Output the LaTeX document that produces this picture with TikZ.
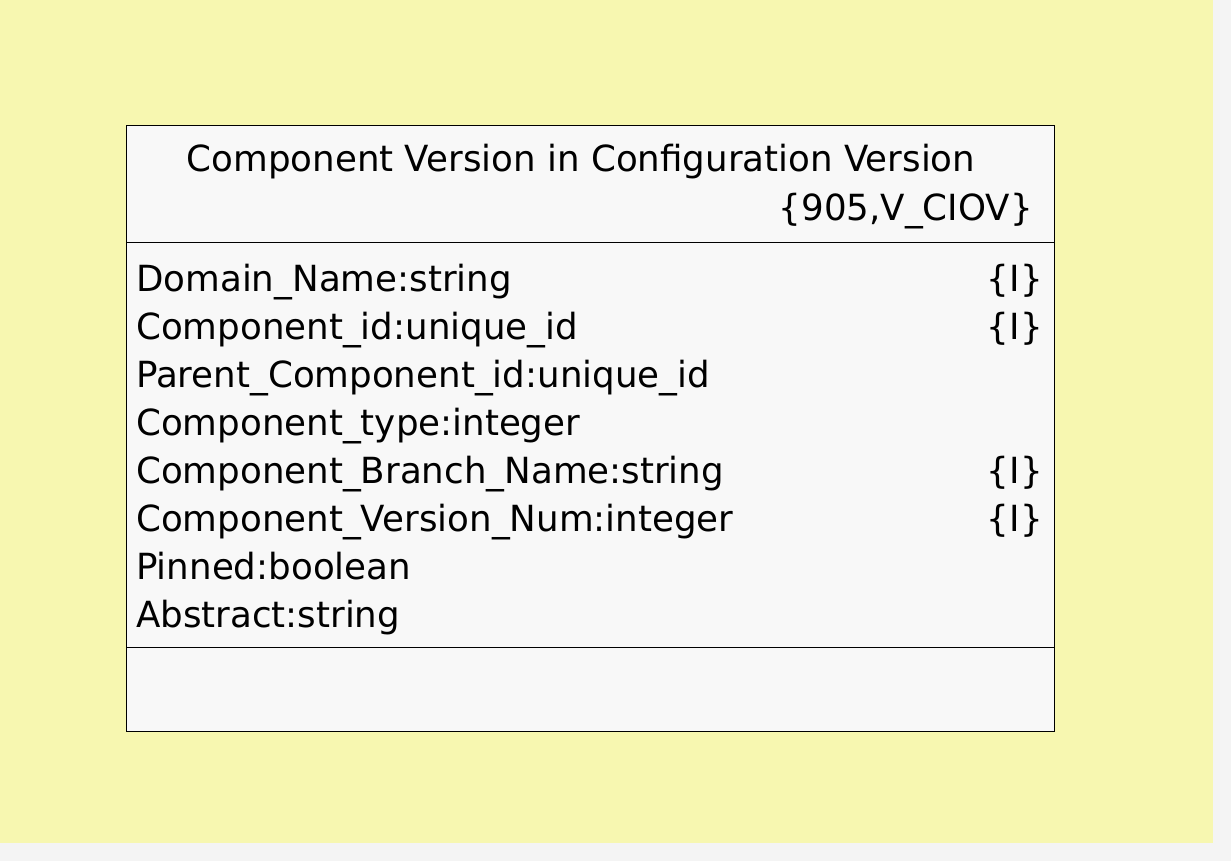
\documentclass[tikz,border=0pt]{standalone}
\usepackage{fontspec}
\newfontfamily\umlfont[FakeStretch=0.99]{DejaVu Sans}
\definecolor{bgyellow}{RGB}{247,247,176}
\definecolor{pagegray}{RGB}{244,244,244}
\definecolor{boxfill}{RGB}{248,248,248}
\begin{document}
\begin{tikzpicture}[x=1pt,y=-1pt,
  txt/.style={inner sep=0pt,font=\umlfont\fontsize{36}{40}\selectfont},
  attr/.style={txt,anchor=base west},
  key/.style={txt,anchor=base east}]
\useasboundingbox (0,0) rectangle (1231,861);
\fill[pagegray] (0,0) rectangle (1231,861);
\fill[bgyellow] (0,0) rectangle (1213,843);
\draw[fill=boxfill,line width=1pt] (126,126) rectangle (1054,731);
\coordinate (d1l) at (126,242); \coordinate (d1r) at (1054,242);
\coordinate (d2l) at (126,647); \coordinate (d2r) at (1054,647);
\draw[line width=1pt] (d1l) -- (d1r);
\draw[line width=1pt] (d2l) -- (d2r);
\node[txt,anchor=base] (title) at (581,172) {Component Version in Configuration Version};
\node[key] (kl) at (1033,220) {\{905,V\_CIOV\}};
\node[attr] (a1) at (136,291) {Domain\_Name:string};
\node[attr] (a2) at (136,339) {Component\_id:unique\_id};
\node[attr] (a3) at (136,387) {Parent\_Component\_id:unique\_id};
\node[attr] (a4) at (136,435) {Component\_type:integer};
\node[attr] (a5) at (136,483) {Component\_Branch\_Name:string};
\node[attr] (a6) at (136,531) {Component\_Version\_Num:integer};
\node[attr] (a7) at (136,579) {Pinned:boolean};
\node[attr] (a8) at (136,627) {Abstract:string};
\node[key] (i1) at (1043,291) {\{I\}};
\node[key] (i2) at (1043,339) {\{I\}};
\node[key] (i5) at (1043,483) {\{I\}};
\node[key] (i6) at (1043,531) {\{I\}};
\end{tikzpicture}
\end{document}
